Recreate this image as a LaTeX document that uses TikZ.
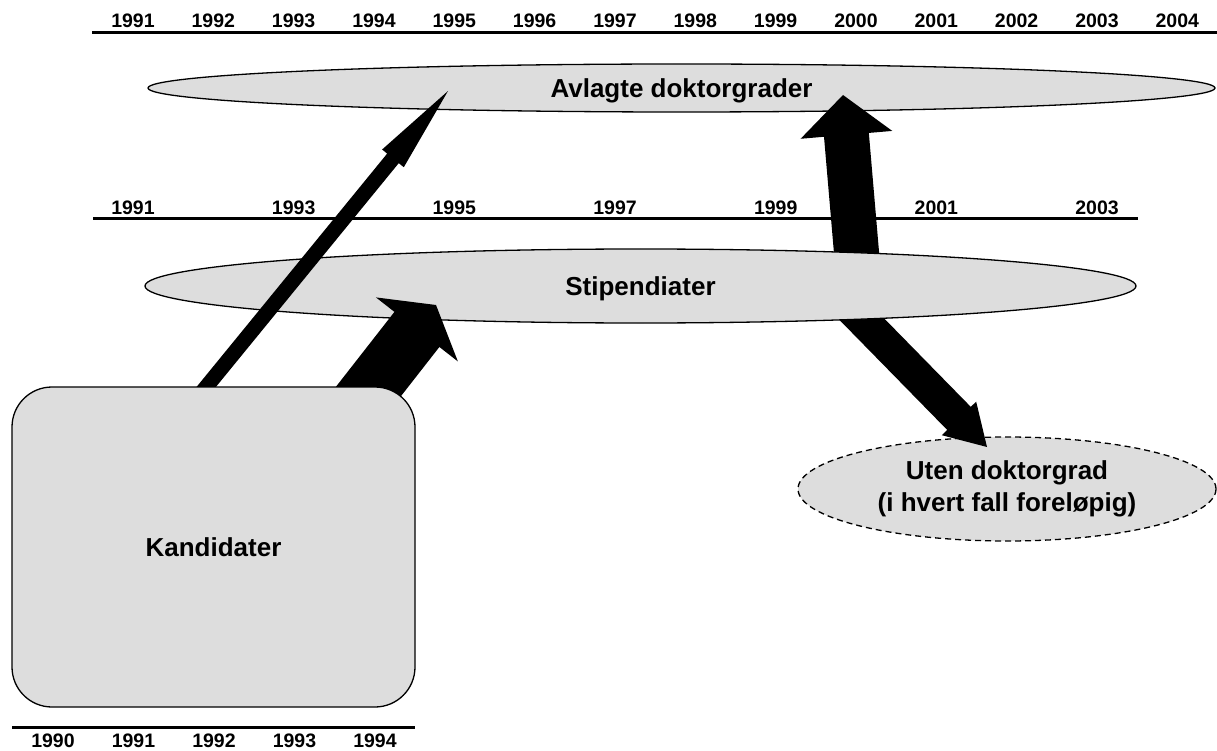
\documentclass[tikz,border=0pt]{standalone}
\usepackage{fontspec}
\setmainfont{Liberation Sans}
\usetikzlibrary{shapes.geometric,calc}
\definecolor{fillgray}{RGB}{221,221,221}
% block arrow: start, tip, shaft half width, head half width, head length
\newcommand{\blkarrow}[5]{%
  \coordinate (hb) at ($(#2)!#5!(#1)$);
  \fill[black] ($(#1)!#3!90:(#2)$) -- ($(hb)!#3!90:(#2)$) -- ($(hb)!#4!90:(#2)$) -- (#2)
     -- ($(hb)!#4!-90:(#2)$) -- ($(hb)!#3!-90:(#2)$) -- ($(#1)!#3!-90:(#2)$) -- cycle;}
\begin{document}
\begin{tikzpicture}[x=1pt,y=-1pt,
  yr/.style={font=\fontsize{19.5}{22}\selectfont\bfseries, inner sep=0},
  big/.style={font=\fontsize{26}{32}\selectfont\bfseries},
  ell/.style={ellipse, draw, fill=fillgray, line width=1.3pt, inner sep=0},
  axisline/.style={line width=3pt}]
\useasboundingbox (0,0) rectangle (1217,751);

% year scales
\foreach \i in {0,...,13} {
  \pgfmathsetmacro\xx{133+80.33*\i}
  \pgfmathtruncatemacro\yy{1991+\i}
  \node[yr] (t\yy) at (\xx,21) {\yy};
}
\coordinate (tl) at (92,33); \coordinate (tr) at (1217,33);
\draw[axisline] (tl) -- (tr);

\foreach \k in {0,...,6} {
  \pgfmathsetmacro\xx{133+160.67*\k}
  \pgfmathtruncatemacro\yy{1991+2*\k}
  \node[yr] (m\yy) at (\xx,208) {\yy};
}
\coordinate (ml) at (93,219); \coordinate (mr) at (1138,219);
\draw[axisline] (ml) -- (mr);

\foreach \i in {0,...,4} {
  \pgfmathsetmacro\xx{53+80.5*\i}
  \pgfmathtruncatemacro\yy{1990+\i}
  \node[yr] (b\yy) at (\xx,741) {\yy};
}
\coordinate (bl) at (12,727); \coordinate (br) at (415,727);
\draw[axisline] (bl) -- (br);

% upper ellipses
\node[ell, big, minimum width=1067pt, minimum height=48pt, text height=18.6pt, text depth=0pt] (avl) at (681.5,88) {Avlagte doktorgrader};
\node[ell, big, dashed, dash pattern=on 6pt off 4pt, minimum width=418pt, minimum height=104pt, align=center] (uten) at (1007,489) {Uten doktorgrad\\(i hvert fall foreløpig)};

% arrows out of Stipendiater
\coordinate (s3) at (858,270); \coordinate (e3) at (843,95);
\blkarrow{s3}{e3}{22.5pt}{46pt}{40pt}
\coordinate (s4) at (843,300); \coordinate (e4) at (987,447);
\blkarrow{s4}{e4}{16.5pt}{24pt}{40pt}

\node[ell, big, minimum width=991pt, minimum height=74pt, text height=18.6pt, text depth=0pt] (stip) at (640.5,286) {Stipendiater};

% arrows out of Kandidater
\coordinate (s1) at (198,397); \coordinate (e1) at (448,91);
\blkarrow{s1}{e1}{7.5pt}{14pt}{87pt}
\coordinate (s2) at (352,412.5); \coordinate (e2) at (436,305);
\blkarrow{s2}{e2}{28.5pt}{52pt}{31pt}

\node[draw, fill=fillgray, line width=1.3pt, rounded corners=40pt, minimum width=403pt, minimum height=320pt, big, text height=18.6pt, text depth=0pt] (kand) at (213.5,547) {Kandidater};
\end{tikzpicture}
\end{document}
